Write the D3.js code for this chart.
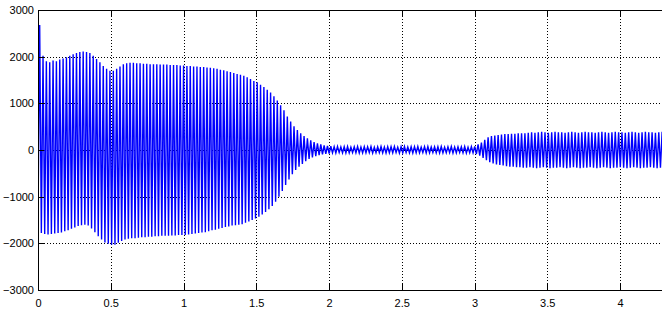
<!DOCTYPE html>
<html>
<head>
<meta charset="utf-8">
<script src="https://cdn.jsdelivr.net/npm/d3@7"></script>
<style>
body { margin: 0; background: #fff; }
svg { display: block; }
</style>
</head>
<body>
<svg id="chart"></svg>
<script>
// one oscillation cycle every strokeStep seconds: its high and low peak
const strokeStep = 0.023;
const peakHi = [
  2680, 2020, 1900, 1880, 1920, 1900, 1940, 1960, 1990, 2020,
  2050, 2080, 2100, 2110, 2100, 2080, 2020, 1950, 1880, 1800,
  1740, 1700, 1700, 1740, 1790, 1840, 1860, 1870, 1870, 1860,
  1860, 1850, 1850, 1840, 1840, 1840, 1830, 1830, 1830, 1820,
  1820, 1820, 1810, 1810, 1800, 1800, 1790, 1790, 1780, 1780,
  1770, 1760, 1750, 1740, 1720, 1710, 1690, 1670, 1650, 1630,
  1610, 1590, 1560, 1520, 1480, 1450, 1400, 1350, 1290, 1230,
  1150, 1060, 960, 850, 720, 610, 510, 430, 360, 300,
  250, 210, 170, 145, 120, 100, 90, 80, 70, 75,
  65, 70, 75, 60, 70, 75, 65, 70, 70, 75,
  60, 70, 75, 65, 70, 70, 75, 60, 70, 75,
  65, 70, 70, 75, 60, 70, 75, 65, 70, 70,
  75, 60, 70, 75, 65, 70, 70, 75, 60, 70,
  75, 120, 160, 220, 270, 300, 310, 320, 330, 340,
  340, 350, 350, 360, 360, 360, 370, 380, 370, 380,
  390, 380, 370, 380, 390, 380, 380, 370, 380, 390,
  380, 370, 380, 390, 380, 380, 370, 380, 390, 380,
  370, 380, 390, 380, 380, 370, 380, 390, 380, 370,
  380, 390, 380, 380, 370, 380, 390, 380
];
const peakLo = [
  -1500, -1780, -1800, -1810, -1800, -1790, -1780, -1770, -1740, -1720,
  -1690, -1660, -1630, -1610, -1600, -1620, -1680, -1760, -1850, -1920,
  -1980, -2010, -2030, -2030, -1990, -1950, -1920, -1900, -1890, -1890,
  -1880, -1870, -1870, -1860, -1860, -1850, -1850, -1840, -1840, -1840,
  -1830, -1830, -1820, -1820, -1820, -1810, -1800, -1790, -1780, -1770,
  -1760, -1740, -1720, -1710, -1690, -1670, -1650, -1640, -1620, -1610,
  -1600, -1590, -1560, -1530, -1500, -1470, -1430, -1380, -1330, -1270,
  -1200, -1110, -1000, -880, -750, -630, -520, -430, -360, -300,
  -240, -190, -160, -130, -110, -95, -85, -75, -60, -65,
  -55, -60, -65, -60, -55, -60, -65, -60, -60, -55,
  -65, -60, -55, -60, -65, -60, -60, -55, -65, -60,
  -55, -60, -65, -60, -60, -55, -65, -60, -55, -60,
  -65, -60, -60, -55, -65, -60, -55, -60, -65, -60,
  -60, -90, -120, -170, -220, -260, -290, -310, -320, -330,
  -350, -360, -360, -370, -370, -380, -380, -370, -380, -390,
  -380, -370, -380, -390, -380, -380, -370, -380, -390, -380,
  -370, -380, -390, -380, -380, -370, -380, -390, -380, -370,
  -380, -390, -380, -380, -370, -380, -390, -380, -370, -380,
  -390, -380, -380, -370, -380, -390, -380, -370
];
const xTicks = [0, 0.5, 1, 1.5, 2, 2.5, 3, 3.5, 4];
const yTicks = [-3000, -2000, -1000, 0, 1000, 2000, 3000];

const W = 662, H = 311;
const padL = 38, padT = 10, padB = 290;

const svg = d3.select("#chart")
    .attr("width", W)
    .attr("height", H);

const x = d3.scaleLinear().domain([0, 4.5]).range([padL, padL + 4.5 * 145.5]);
const y = d3.scaleLinear().domain([-3000, 3000]).range([padB, padT]);

const pts = [];
peakHi.forEach((v, i) => {
    pts.push({t: i * strokeStep, v: peakLo[i]});
    pts.push({t: i * strokeStep + strokeStep / 2, v: v});
});

svg.append("clipPath").attr("id", "plotclip")
    .append("rect")
    .attr("x", padL).attr("y", padT)
    .attr("width", W - padL).attr("height", padB - padT);

// dotted grid
const grid = svg.append("g").attr("stroke", "#000").attr("stroke-width", 1)
    .attr("stroke-dasharray", "1,2").attr("shape-rendering", "crispEdges");
grid.selectAll(".gx").data(xTicks.slice(1)).enter().append("line")
    .attr("x1", d => Math.round(x(d)) + 0.5).attr("x2", d => Math.round(x(d)) + 0.5)
    .attr("y1", padT).attr("y2", padB);
grid.selectAll(".gy").data(yTicks.slice(1, -1)).enter().append("line")
    .attr("x1", padL).attr("x2", W)
    .attr("y1", d => Math.round(y(d)) + 0.5).attr("y2", d => Math.round(y(d)) + 0.5);

const line = d3.line()
    .x(d => x(d.t))
    .y(d => y(d.v))
    .curve(d3.curveLinear);

svg.append("path")
    .attr("clip-path", "url(#plotclip)")
    .attr("d", line(pts))
    .attr("fill", "none")
    .attr("stroke", "#0000ff")
    .attr("stroke-width", 1.4);

// axes, MATLAB style: ticks inward, box on top
const axisFont = "'Liberation Sans', Arial, sans-serif";
const xAxis = svg.append("g")
    .attr("transform", `translate(0,${padB})`)
    .call(d3.axisBottom(x).tickValues(xTicks).tickSize(-6).tickPadding(9).tickFormat(d3.format("")));
const yAxis = svg.append("g")
    .attr("transform", `translate(${padL},0)`)
    .call(d3.axisLeft(y).tickValues(yTicks).tickSize(-6).tickPadding(4).tickFormat(d3.format("d")));
const topAxis = svg.append("g")
    .attr("transform", `translate(0,${padT})`)
    .call(d3.axisTop(x).tickValues(xTicks).tickSize(-6).tickFormat(""));

[xAxis, yAxis, topAxis].forEach(g => {
    g.select(".domain").remove();
    g.selectAll("line").attr("stroke", "#000").attr("shape-rendering", "crispEdges");
    g.selectAll("text")
        .attr("font-family", axisFont)
        .attr("font-size", "11px")
        .attr("fill", "#000");
});
xAxis.selectAll("text").attr("dy", "0.71em");

svg.append("line").attr("x1", padL).attr("x2", W).attr("y1", padB + 0.5).attr("y2", padB + 0.5)
    .attr("stroke", "#000").attr("shape-rendering", "crispEdges");
svg.append("line").attr("x1", padL).attr("x2", W).attr("y1", padT + 0.5).attr("y2", padT + 0.5)
    .attr("stroke", "#000").attr("shape-rendering", "crispEdges");
svg.append("line").attr("x1", padL + 0.5).attr("x2", padL + 0.5).attr("y1", padT).attr("y2", padB + 1)
    .attr("stroke", "#000").attr("shape-rendering", "crispEdges");
</script>
</body>
</html>
